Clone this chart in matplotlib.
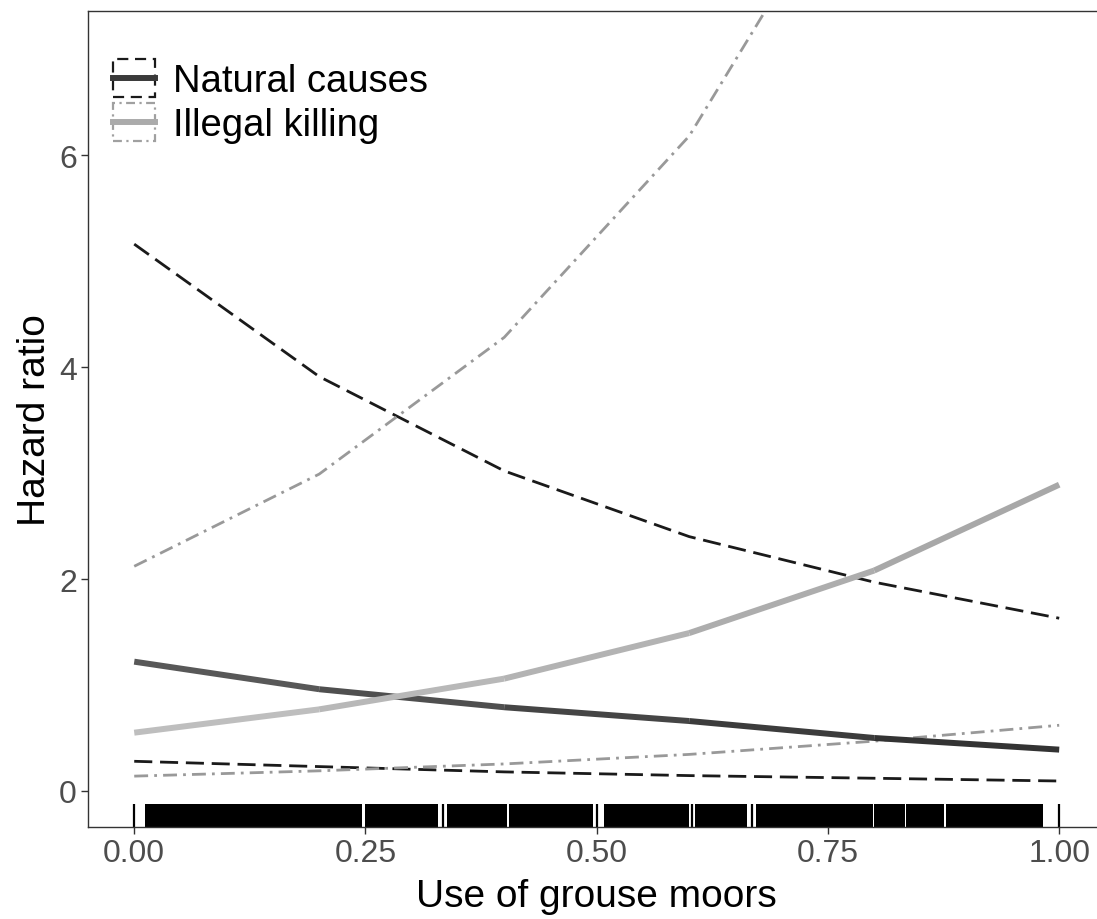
import numpy as np
import matplotlib
matplotlib.use("Agg")
import matplotlib.pyplot as plt
from matplotlib.collections import LineCollection
from matplotlib.colors import LinearSegmentedColormap
from matplotlib.legend_handler import HandlerBase
from matplotlib.patches import Rectangle
from matplotlib.lines import Line2D

plt.rcParams['font.family'] = ['Liberation Sans', 'DejaVu Sans']

# use of grouse moors (prediction grid)
x = [0.0, 0.2, 0.4, 0.6, 0.8, 1.0]

# natural causes: estimate and bounds
nat_hr = [1.22, 0.96, 0.79, 0.66, 0.50, 0.39]
nat_lo = [0.28, 0.23, 0.18, 0.145, 0.12, 0.094]
nat_hi = [5.16, 3.91, 3.02, 2.40, 1.97, 1.63]

# illegal killing: estimate and bounds
ill_hr = [0.55, 0.77, 1.06, 1.49, 2.08, 2.89]
ill_lo = [0.14, 0.19, 0.255, 0.345, 0.47, 0.62]
ill_hi = [2.12, 2.99, 4.28, 6.18, 9.05, 13.0]

# rug of observed values: solid runs and lone ticks
rug_spans = [(0.012, 0.2465), (0.2492, 0.3281), (0.3384, 0.4029), (0.4054, 0.4959),
             (0.5081, 0.6003), (0.6062, 0.6630), (0.6724, 0.7986), (0.8000, 0.8330),
             (0.8346, 0.8757), (0.8778, 0.9830)]
rug_single = [0.0, 0.3335, 0.5002, 0.6032, 0.6678, 1.0]

fig = plt.figure(figsize=(10.97, 9.2), dpi=100)
ax = fig.add_axes([0.0802, 0.1, 0.9275, 0.887])

dash = (0, (6.5, 2.8))
dotdash = (0, (5, 2.2, 1, 2.2))

ax.plot(x, nat_hi, color='#1a1a1a', lw=2.0, ls=dash)
ax.plot(x, nat_lo, color='#1a1a1a', lw=2.0, ls=dash)
ax.plot(x, ill_hi, color='#999999', lw=2.0, ls=dotdash)
ax.plot(x, ill_lo, color='#999999', lw=2.0, ls=dotdash)


def grad_line(xs, ys, c0, c1):
    pts = np.column_stack([xs, ys])
    segs = np.stack([pts[:-1], pts[1:]], axis=1)
    cmap = LinearSegmentedColormap.from_list('g', [c0, c1])
    cols = cmap(np.linspace(0, 1, len(segs)))
    lc = LineCollection(segs, colors=cols, linewidths=4.3, capstyle='butt', joinstyle='round')
    ax.add_collection(lc)


grad_line(x, nat_hr, '#585858', '#333333')
grad_line(x, ill_hr, '#bebebe', '#a8a8a8')

for a, b in rug_spans:
    ax.axvspan(a, b, ymin=0, ymax=0.028, color='black', lw=0)
ax.vlines(rug_single, 0, 0.028, transform=ax.get_xaxis_transform(), color='black', lw=1.6)

ax.set_xlim(-0.05, 1.05)
ax.set_ylim(-0.34, 7.36)
ax.set_xticks([0, 0.25, 0.5, 0.75, 1.0])
ax.set_xticklabels(['0.00', '0.25', '0.50', '0.75', '1.00'])
ax.set_yticks([0, 2, 4, 6])

for s in ax.spines.values():
    s.set_color('#333333')
    s.set_linewidth(1.0)
ax.spines['right'].set_visible(False)
ax.tick_params(length=5, width=1.0, color='#333333', labelcolor='#4d4d4d',
               labelsize=23, pad=3)
ax.set_xlabel('Use of grouse moors', fontsize=28, color='black', labelpad=7)
ax.set_ylabel('Hazard ratio', fontsize=28, color='black', labelpad=4)


class BoxLine(HandlerBase):
    def __init__(self, edge, ls, lc):
        super().__init__()
        self.edge, self.ls, self.lc = edge, ls, lc

    def create_artists(self, legend, orig_handle, xdescent, ydescent, width, height,
                       fontsize, trans):
        r = Rectangle((-xdescent, -ydescent), width, height, fill=False,
                      ec=self.edge, ls=self.ls, lw=1.6, transform=trans)
        ln = Line2D([-xdescent, width - xdescent], [height / 2 - ydescent] * 2,
                    color=self.lc, lw=4.3, transform=trans)
        return [r, ln]


h1, h2 = object(), object()
leg = ax.legend([h1, h2], ['Natural causes', 'Illegal killing'],
                handler_map={h1: BoxLine('#1a1a1a', (0, (5, 3)), '#3a3a3a'),
                             h2: BoxLine('#a0a0a0', (0, (4, 2, 1, 2)), '#ababab')},
                loc='upper left', bbox_to_anchor=(0.0245, 0.941), frameon=False,
                fontsize=27.5, handlelength=1.1, handleheight=1.15, labelspacing=0.1,
                handletextpad=0.47, borderpad=0, borderaxespad=0)

fig.savefig('out.png', dpi=100)
